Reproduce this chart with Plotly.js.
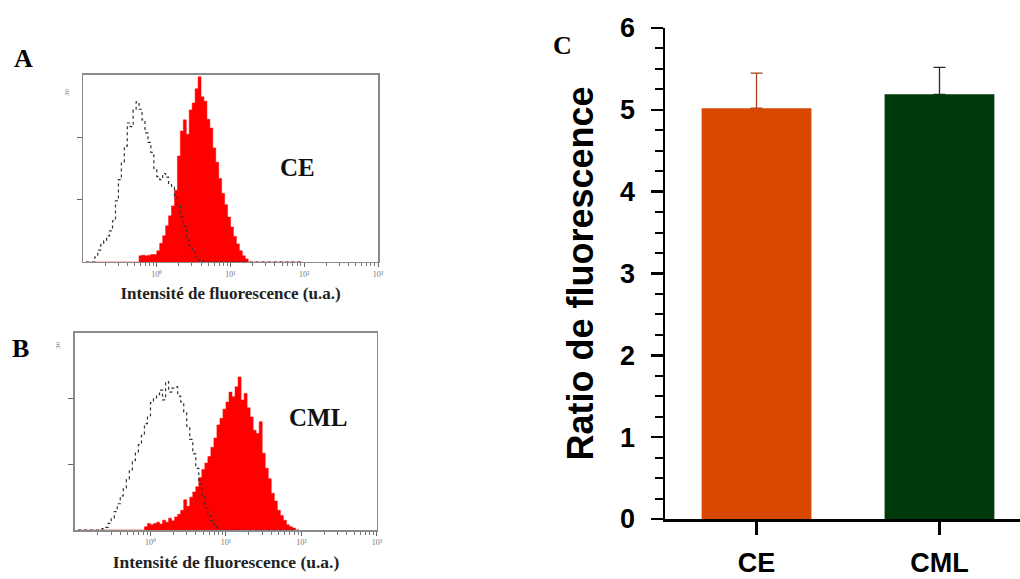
<!DOCTYPE html>
<html><head><meta charset="utf-8">
<script src="https://cdn.plot.ly/plotly-3.0.1.min.js"></script>
<style>html,body{margin:0;padding:0;background:#fff;} #chart{width:1020px;height:579px;}</style>
</head><body><div id="chart"></div>
<script>
// Histogram bins (fluorescence intensity, u.a.) shared by panels A and B
const intensityBins = [0.1096,0.1202,0.1318,0.1445,0.1585,0.1738,0.1905,0.2089,0.2291,0.2512,
  0.2754,0.3020,0.3311,0.3631,0.3981,0.4365,0.4786,0.5248,0.5754,0.6310,
  0.6918,0.7586,0.8318,0.9120,1.000,1.096,1.202,1.318,1.445,1.585,
  1.738,1.905,2.089,2.291,2.512,2.754,3.020,3.311,3.631,3.981,
  4.365,4.786,5.248,5.754,6.310,6.918,7.586,8.318,9.120,10.00,
  10.96,12.02,13.18,14.45,15.85,17.38,19.05,20.89,22.91,25.12,
  27.54,30.20,33.11,36.31,39.81,43.65,47.86,52.48,57.54,63.10,
  69.18,75.86,83.18,91.20];
// Panel A (CE): isotype control (dotted) and stained cells (red)
const isotypeCE = [0,0,0,0.8,1.9,2.8,3.4,4.2,5.0,6.6,
  9.8,13.2,16.0,18.6,22.3,21.7,24.4,25.7,24.5,22.8,
  20.7,19.2,17.6,15.0,13.7,13.2,14.2,13.6,12.6,12.0,
  10.4,9.0,7.2,5.7,3.5,2.6,1.6,0.8,0.3,0.1,
  0,0,0,0,0,0,0,0,0,0,
  0,0,0,0,0,0,0,0,0,0,
  0,0,0,0,0,0,0,0,0,0,
  0,0,0,0];
const stainedCE = [0,0,0,0,0,0,0,0,0,0,
  0,0,0,0,0,0,0,0,1.0,1.1,
  1.0,1.1,1.2,1.2,1.8,3.0,4.2,5.8,7.4,9.0,
  11.5,17.0,21.0,22.8,20.5,24.4,25.5,27.8,29.7,26.5,
  25.8,22.9,21.5,18.3,16.0,13.4,11.0,9.2,7.2,5.6,
  4.1,2.9,1.8,1.0,0.5,0,0,0,0,0,
  0,0,0,0,0,0,0,0,0,0,
  0,0,0,0];
// Panel B (CML)
const isotypeCML = [0,0,0,0,0,0,0,0,0.2,0.4,
  1.0,1.8,2.8,4.0,5.2,6.4,7.8,9.2,10.6,11.9,
  13.0,14.4,16.2,17.4,19.4,20.0,20.6,21.3,19.8,22.6,
  21.0,21.6,21.8,20.4,19.5,18.0,15.8,13.8,11.6,9.4,
  7.0,5.0,3.4,2.2,1.4,0.8,0.3,0,0,0,
  0,0,0,0,0,0,0,0,0,0,
  0,0,0,0,0,0,0,0,0,0,
  0,0,0,0];
const stainedCML = [0,0,0,0,0,0,0,0,0,0,
  0,0,0,0,0,0,0,0,0,0,
  0,0,0.5,1.0,0.8,1.0,1.2,0.9,1.5,1.2,
  1.8,1.4,2.0,2.4,3.0,4.6,3.6,5.0,5.8,6.6,
  8.0,9.2,10.2,11.2,12.6,14.0,16.0,17.0,18.4,19.5,
  21.0,20.3,21.8,23.3,19.8,20.8,18.6,17.2,15.2,14.7,
  16.5,11.7,9.4,7.8,5.6,4.4,3.0,2.2,1.5,0.8,
  0.5,0.3,0,0];
const logTickVals = [1,10,100,1000];
const logTickText = ['10⁰','10¹','10²','10³'];
const logMinorTickVals = [0.2,0.3,0.4,0.5,0.6,0.7,0.8,0.9,2,3,4,5,6,7,8,9,
  20,30,40,50,60,70,80,90,200,300,400,500,600,700,800,900];
const countTickVals = [10,20];
// Panel C
const groups = ['CE','CML'];
const ratioMeans = [5.02, 5.19];
const ratioSD = [0.43, 0.33];
const barColors = ['#D94800','#003A0A'];
const errColors = ['#A8401A','#1C301C'];

const traces = [];
function histTraces(counts, iso, xa, ya){
  traces.push({x:intensityBins, y:counts, xaxis:xa, yaxis:ya, type:'scatter', mode:'lines',
    line:{shape:'hv', color:'#ff0000', width:0.5}, fill:'tozeroy', fillcolor:'#ff0000', hoverinfo:'skip'});
  traces.push({x:intensityBins, y:iso, xaxis:xa, yaxis:ya, type:'scatter', mode:'lines',
    line:{shape:'hv', color:'#333', width:1.2, dash:'dot'}, hoverinfo:'skip'});
}
histTraces(stainedCE, isotypeCE, 'x', 'y');
histTraces(stainedCML, isotypeCML, 'x2', 'y2');
groups.forEach((g,i)=>{
  traces.push({type:'bar', x:[g], y:[ratioMeans[i]], xaxis:'x3', yaxis:'y3', width:0.6,
    marker:{color:barColors[i], line:{width:0}},
    error_y:{type:'data', array:[ratioSD[i]], arrayminus:[0], symmetric:false, color:errColors[i], thickness:1.3, width:6}});
});

function histX(domain, anchor, tsize){
  return {domain:domain, anchor:anchor, type:'log', range:[-1,3], tickmode:'array', tickvals:logTickVals, ticktext:logTickText,
    ticks:'outside', ticklen:4, tickwidth:1, tickcolor:'#666', tickfont:{size:8, color:'#777', family:'Liberation Serif'},
    showline:true, mirror:true, linecolor:'#8a8a8a', linewidth:1.5, showgrid:false, zeroline:false,
    minor:{tickmode:'array', tickvals:logMinorTickVals, ticks:'outside', ticklen:3, tickwidth:1, tickcolor:'#777'},
    title:{text:'Intensité de fluorescence (u.a.)', font:{family:'Liberation Serif', size:tsize, color:'#222', weight:'bold'}, standoff:9}};
}
function histY(domain, anchor){
  return {domain:domain, anchor:anchor, range:[0,30], tickmode:'array', tickvals:countTickVals, ticktext:['',''],
    ticks:'outside', ticklen:5, tickcolor:'#666', showline:true, mirror:true, linecolor:'#8a8a8a', linewidth:1.5,
    showgrid:false, zeroline:false};
}
function ann(text, x, y, font, angle){
  return {text:text, xref:'paper', yref:'paper', x:x/1020, y:1-y/579, xanchor:'center', yanchor:'middle',
    showarrow:false, textangle:angle||0, font:font};
}
const letterFont = {family:'Liberation Serif', size:26, weight:'bold', color:'#000'};
const cellFont = {family:'Liberation Serif', size:25, weight:'bold', color:'#111'};
const smallFont = {family:'Liberation Serif', size:7, color:'#777'};
const layout = {
  width:1020, height:579, margin:{l:0,r:0,t:0,b:0}, paper_bgcolor:'#fff', plot_bgcolor:'rgba(0,0,0,0)',
  showlegend:false, barmode:'overlay', font:{family:'Liberation Sans, Arial, sans-serif', color:'#000'},
  xaxis: histX([0.0814,0.3706],'y',17),
  yaxis: histY([0.5475,0.8705],'x'),
  xaxis2: histX([0.0735,0.3696],'y2',17.5),
  yaxis2: histY([0.0846,0.4249],'x2'),
  xaxis3: {domain:[0.652,1], anchor:'y3', type:'category', range:[-0.5,1.44], ticks:'outside', ticklen:13, tickwidth:2.5,
    tickcolor:'#000', showline:true, linewidth:2.5, linecolor:'#000', showgrid:false, zeroline:false,
    tickfont:{size:27, color:'#000', family:'Liberation Sans, Arial', weight:'bold'}, ticklabelstandoff:5},
  yaxis3: {domain:[0.1036,0.9516], anchor:'x3', range:[0,6], tickvals:[0,1,2,3,4,5,6], ticks:'outside', ticklen:12,
    tickwidth:2.5, tickcolor:'#000', showline:true, linewidth:2.5, linecolor:'#000', showgrid:false, zeroline:false,
    tickfont:{size:27, color:'#000', family:'Liberation Sans, Arial', weight:'bold'}, ticklabelstandoff:10,
    minor:{dtick:0.25, ticks:'outside', ticklen:8, tickwidth:2, tickcolor:'#000'},
    title:{text:'Ratio de fluorescence', font:{size:36, family:'Liberation Sans, Arial', weight:'bold', color:'#000'}, standoff:16}},
  annotations:[
    ann('A', 23, 59, letterFont),
    ann('B', 20, 348, letterFont),
    ann('C', 562, 45, letterFont),
    ann('CE', 297, 168, cellFont),
    ann('CML', 318, 417, cellFont),
    ann('30', 67, 92, smallFont, -90),
    ann('30', 58, 345, smallFont, -90)
  ]
};
Plotly.newPlot('chart', traces, layout, {staticPlot:true, displayModeBar:false});
</script>
</body></html>
